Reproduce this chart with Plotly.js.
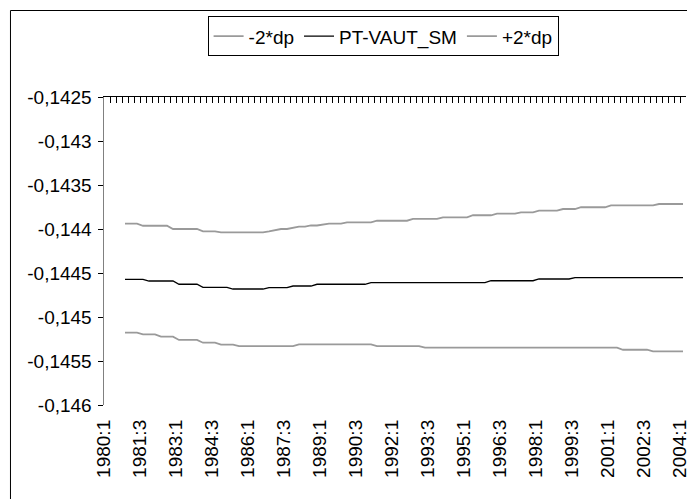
<!DOCTYPE html>
<html>
<head>
<meta charset="utf-8">
<script src="https://cdn.plot.ly/plotly-3.0.1.min.js"></script>
<style>
  html, body { margin: 0; padding: 0; background: #fff; }
  #chart { width: 687px; height: 499px; }
</style>
</head>
<body>
<div id="chart"></div>
<script>
// Quarterly categories 1980:1 .. 2004:1
const quarters = [
  "1980:1","1980:2","1980:3","1980:4","1981:1","1981:2","1981:3","1981:4",
  "1982:1","1982:2","1982:3","1982:4","1983:1","1983:2","1983:3","1983:4",
  "1984:1","1984:2","1984:3","1984:4","1985:1","1985:2","1985:3","1985:4",
  "1986:1","1986:2","1986:3","1986:4","1987:1","1987:2","1987:3","1987:4",
  "1988:1","1988:2","1988:3","1988:4","1989:1","1989:2","1989:3","1989:4",
  "1990:1","1990:2","1990:3","1990:4","1991:1","1991:2","1991:3","1991:4",
  "1992:1","1992:2","1992:3","1992:4","1993:1","1993:2","1993:3","1993:4",
  "1994:1","1994:2","1994:3","1994:4","1995:1","1995:2","1995:3","1995:4",
  "1996:1","1996:2","1996:3","1996:4","1997:1","1997:2","1997:3","1997:4",
  "1998:1","1998:2","1998:3","1998:4","1999:1","1999:2","1999:3","1999:4",
  "2000:1","2000:2","2000:3","2000:4","2001:1","2001:2","2001:3","2001:4",
  "2002:1","2002:2","2002:3","2002:4","2003:1","2003:2","2003:3","2003:4",
  "2004:1"
];

// Shown x tick labels
const xTickLabels = [
  "1980:1","1981:3","1983:1","1984:3","1986:1","1987:3","1989:1","1990:3",
  "1992:1","1993:3","1995:1","1996:3","1998:1","1999:3","2001:1","2002:3","2004:1"
];

// Y ticks
const yTickValues = [-0.146, -0.1455, -0.145, -0.1445, -0.144, -0.1435, -0.143, -0.1425];
const yTickLabels = ["-0,146", "-0,1455", "-0,145", "-0,1445", "-0,144", "-0,1435", "-0,143", "-0,1425"];

// Series names
const seriesNames = ["-2*dp", "PT-VAUT_SM", "+2*dp"];

// -2*dp (lower band)
const lowerBand = [
  null, null, null,
  -0.145178, -0.145178, -0.145178,
  -0.145197, -0.145197, -0.145197,
  -0.145224, -0.145224, -0.145224,
  -0.145261, -0.145261, -0.145261, -0.145261,
  -0.145292, -0.145292, -0.145292,
  -0.145315, -0.145315, -0.145315,
  -0.145330, -0.145330, -0.145330, -0.145330, -0.145330,
  -0.145330, -0.145330, -0.145330, -0.145330, -0.145330,
  -0.145310, -0.145310, -0.145310, -0.145310, -0.145310, -0.145310, -0.145310,
  -0.145310, -0.145310, -0.145310, -0.145310, -0.145310, -0.145310,
  -0.145330, -0.145330, -0.145330, -0.145330, -0.145330, -0.145330, -0.145330, -0.145330,
  -0.145349, -0.145349, -0.145349, -0.145349, -0.145349, -0.145349, -0.145349, -0.145349,
  -0.145349, -0.145349, -0.145349, -0.145349, -0.145349, -0.145349, -0.145349, -0.145349,
  -0.145349, -0.145349, -0.145349, -0.145349, -0.145349, -0.145349, -0.145349, -0.145349,
  -0.145349, -0.145349, -0.145349, -0.145349, -0.145349, -0.145349, -0.145349, -0.145349,
  -0.145349,
  -0.145372, -0.145372, -0.145372, -0.145372, -0.145372,
  -0.145390, -0.145390, -0.145390, -0.145390, -0.145390, -0.145390
];

// PT-VAUT_SM (central estimate)
const central = [
  null, null, null,
  -0.144572, -0.144572, -0.144572, -0.144572,
  -0.144591, -0.144591, -0.144591, -0.144591, -0.144591,
  -0.144628, -0.144628, -0.144628, -0.144628,
  -0.144663, -0.144663, -0.144663, -0.144663, -0.144663,
  -0.144682, -0.144682, -0.144682, -0.144682, -0.144682, -0.144682,
  -0.144667, -0.144667, -0.144667, -0.144667,
  -0.144648, -0.144648, -0.144648, -0.144648,
  -0.144628, -0.144628, -0.144628, -0.144628, -0.144628, -0.144628, -0.144628, -0.144628, -0.144628,
  -0.144610, -0.144610, -0.144610, -0.144610, -0.144610, -0.144610, -0.144610, -0.144610, -0.144610, -0.144610,
  -0.144610, -0.144610, -0.144610, -0.144610, -0.144610, -0.144610, -0.144610, -0.144610, -0.144610, -0.144610,
  -0.144588, -0.144588, -0.144588, -0.144588, -0.144588, -0.144588, -0.144588, -0.144588,
  -0.144568, -0.144568, -0.144568, -0.144568, -0.144568, -0.144568,
  -0.144553, -0.144553, -0.144553, -0.144553, -0.144553, -0.144553, -0.144553, -0.144553, -0.144553, -0.144553,
  -0.144553, -0.144553, -0.144553, -0.144553, -0.144553, -0.144553, -0.144553, -0.144553, -0.144553
];

// +2*dp (upper band)
const upperBand = [
  null, null, null,
  -0.143940, -0.143940, -0.143940,
  -0.143963, -0.143963, -0.143963, -0.143963, -0.143963,
  -0.144000, -0.144000, -0.144000, -0.144000, -0.144000,
  -0.144026, -0.144026, -0.144026,
  -0.144038, -0.144038, -0.144038, -0.144038, -0.144038, -0.144038, -0.144038, -0.144038,
  -0.144028,
  -0.144017,
  -0.144000, -0.144000,
  -0.143989,
  -0.143974, -0.143974,
  -0.143960, -0.143960,
  -0.143949,
  -0.143938, -0.143938, -0.143938,
  -0.143924, -0.143924, -0.143924, -0.143924, -0.143924,
  -0.143906, -0.143906, -0.143906, -0.143906, -0.143906, -0.143906,
  -0.143886, -0.143886, -0.143886, -0.143886, -0.143886,
  -0.143867, -0.143867, -0.143867, -0.143867, -0.143867,
  -0.143844, -0.143844, -0.143844, -0.143844,
  -0.143826, -0.143826, -0.143826, -0.143826,
  -0.143810, -0.143810, -0.143810,
  -0.143792, -0.143792, -0.143792, -0.143792,
  -0.143773, -0.143773, -0.143773,
  -0.143753, -0.143753, -0.143753, -0.143753, -0.143753,
  -0.143731, -0.143731, -0.143731, -0.143731, -0.143731, -0.143731, -0.143731, -0.143731,
  -0.143716, -0.143716, -0.143716, -0.143716, -0.143716
];

const FONT = "Liberation Sans, Arial, sans-serif";
const GREY = "#9a9a9a";

const traces = [
  { type: "scatter", mode: "lines", name: seriesNames[0], x: quarters, y: lowerBand,
    line: { color: GREY, width: 1.8 }, connectgaps: false, hoverinfo: "x+y" },
  { type: "scatter", mode: "lines", name: seriesNames[1], x: quarters, y: central,
    line: { color: "#000000", width: 1.3 }, connectgaps: false, hoverinfo: "x+y" },
  { type: "scatter", mode: "lines", name: seriesNames[2], x: quarters, y: upperBand,
    line: { color: GREY, width: 1.8 }, connectgaps: false, hoverinfo: "x+y" },
  // carrier for the top category-boundary tick axis
  { type: "scatter", mode: "lines", x: [], y: [], xaxis: "x2", yaxis: "y",
    showlegend: false, hoverinfo: "skip" }
];

const layout = {
  width: 687, height: 499,
  margin: { l: 104, r: 1, t: 97, b: 94, pad: 0 },
  paper_bgcolor: "#ffffff", plot_bgcolor: "#ffffff",
  font: { family: FONT, size: 19, color: "#000" },
  separators: ", ",
  showlegend: true,
  legend: {
    orientation: "h", x: 0.178, y: 1.262, xanchor: "left", yanchor: "top",
    bordercolor: "#000", borderwidth: 1, bgcolor: "#fff",
    font: { family: FONT, size: 19, color: "#000" },
    traceorder: "normal"
  },
  xaxis: {
    type: "category", range: [-0.5, 96.5],
    tickmode: "array", tickvals: xTickLabels, ticktext: xTickLabels,
    tickangle: -90, ticks: "", showline: false, showgrid: false, zeroline: false,
    ticklabelstandoff: 10, ticklabelshift: -3,
    tickfont: { family: FONT, size: 19, color: "#000" },
    fixedrange: true
  },
  xaxis2: {
    overlaying: "x", side: "top", anchor: "y", type: "linear",
    range: [-0.5, 96.5], tickmode: "linear", tick0: -0.5, dtick: 1,
    ticks: "inside", ticklen: 6, tickwidth: 1, tickcolor: "#000",
    showticklabels: false, showline: true, linecolor: "#000", linewidth: 1,
    showgrid: false, zeroline: false, fixedrange: true
  },
  yaxis: {
    range: [-0.146, -0.1425],
    tickmode: "array", tickvals: yTickValues, ticktext: yTickLabels,
    ticks: "outside", ticklen: 5, tickwidth: 1, tickcolor: "#000",
    ticklabelstandoff: 2,
    showline: true, linecolor: "#808080", linewidth: 1.5,
    showgrid: false, zeroline: false,
    tickfont: { family: FONT, size: 19, color: "#000" },
    fixedrange: true
  },
  shapes: [
    { type: "rect", xref: "paper", yref: "paper",
      x0: -0.1607, x1: 1.3, y0: -0.6, y1: 1.2808,
      line: { color: "#000", width: 1 }, fillcolor: "rgba(0,0,0,0)", layer: "below" }
  ]
};

Plotly.newPlot("chart", traces, layout, { displayModeBar: false, staticPlot: true });
</script>
</body>
</html>
